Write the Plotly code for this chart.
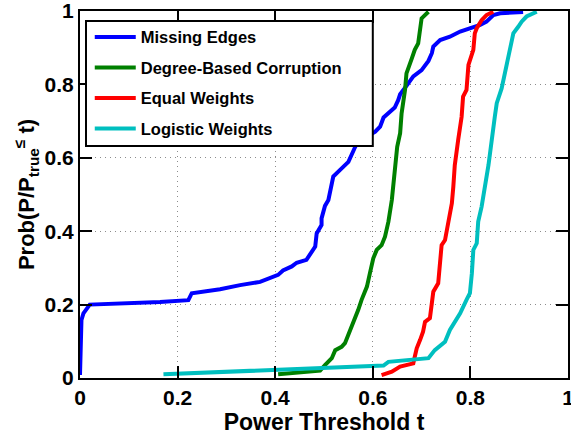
import plotly.graph_objects as go

# ---- data ----
missing_x = [0.0, 0.001, 0.003, 0.007, 0.02, 0.164, 0.215, 0.222, 0.229, 0.287, 0.328, 0.369,
             0.406, 0.416, 0.434, 0.444, 0.464, 0.471, 0.482, 0.485, 0.495, 0.495, 0.502, 0.509,
             0.519, 0.533, 0.550, 0.564, 0.570, 0.605, 0.615, 0.622, 0.645, 0.652, 0.656, 0.669,
             0.683, 0.700, 0.714, 0.721, 0.724, 0.738, 0.758, 0.779, 0.799, 0.820, 0.833, 0.847,
             0.861, 0.908]
missing_y = [0.008, 0.10, 0.158, 0.176, 0.200, 0.207, 0.210, 0.212, 0.231, 0.242, 0.253, 0.262,
             0.281, 0.293, 0.304, 0.314, 0.322, 0.335, 0.358, 0.394, 0.417, 0.435, 0.469, 0.485,
             0.549, 0.567, 0.589, 0.630, 0.644, 0.671, 0.685, 0.710, 0.737, 0.757, 0.773, 0.796,
             0.822, 0.839, 0.864, 0.885, 0.903, 0.921, 0.930, 0.944, 0.953, 0.962, 0.971, 0.989,
             0.994, 0.997]

degree_x = [0.406, 0.45, 0.492, 0.502, 0.516, 0.523, 0.536, 0.543, 0.553, 0.560, 0.570, 0.577,
            0.588, 0.594, 0.601, 0.608, 0.618, 0.625, 0.632, 0.639, 0.645, 0.650, 0.656, 0.659,
            0.666, 0.669, 0.680, 0.686, 0.693, 0.697, 0.700, 0.714]
degree_y = [0.010, 0.015, 0.020, 0.035, 0.054, 0.076, 0.085, 0.095, 0.126, 0.153, 0.185, 0.213,
            0.249, 0.285, 0.326, 0.349, 0.362, 0.385, 0.426, 0.485, 0.567, 0.630, 0.667, 0.721,
            0.785, 0.830, 0.871, 0.894, 0.912, 0.957, 0.980, 0.998]

equal_x = [0.618, 0.639, 0.656, 0.683, 0.686, 0.690, 0.697, 0.703, 0.707, 0.717, 0.721, 0.724,
           0.734, 0.738, 0.741, 0.748, 0.755, 0.762, 0.765, 0.768, 0.775, 0.782, 0.785, 0.792,
           0.796, 0.799, 0.806, 0.809, 0.813, 0.823, 0.833, 0.847]
equal_y = [0.008, 0.017, 0.031, 0.040, 0.058, 0.081, 0.104, 0.126, 0.153, 0.163, 0.204, 0.235,
           0.258, 0.322, 0.362, 0.376, 0.431, 0.476, 0.521, 0.580, 0.649, 0.712, 0.767, 0.785,
           0.853, 0.866, 0.894, 0.939, 0.953, 0.975, 0.989, 0.998]

logistic_x = [0.171, 0.40, 0.622, 0.632, 0.683, 0.714, 0.727, 0.748, 0.758, 0.768, 0.779, 0.792,
              0.799, 0.803, 0.806, 0.813, 0.816, 0.823, 0.830, 0.837, 0.850, 0.854, 0.864, 0.871,
              0.878, 0.884, 0.888, 0.898, 0.905, 0.915, 0.929, 0.936]
logistic_y = [0.010, 0.022, 0.034, 0.044, 0.049, 0.054, 0.076, 0.099, 0.131, 0.153, 0.176, 0.213,
              0.231, 0.285, 0.349, 0.367, 0.426, 0.467, 0.521, 0.580, 0.712, 0.749, 0.789, 0.830,
              0.880, 0.912, 0.939, 0.957, 0.971, 0.985, 0.994, 0.998]

series_names = ["Missing Edges", "Degree-Based Corruption", "Equal Weights", "Logistic Weights"]
series_colors = ["#0000FF", "#008000", "#FF0000", "#00BFBF"]
tick_vals = [0, 0.2, 0.4, 0.6, 0.8, 1]
tick_text = ["0", "0.2", "0.4", "0.6", "0.8", "1"]

FONT = "Liberation Sans, Arial, Helvetica, sans-serif"

fig = go.Figure()
for i, (xs, ys) in enumerate([(missing_x, missing_y), (degree_x, degree_y),
                              (equal_x, equal_y), (logistic_x, logistic_y)]):
    fig.add_trace(go.Scatter(x=xs, y=ys, mode="lines", name=series_names[i],
                             legendgroup=f"g{i}",
                             line=dict(color=series_colors[i], width=4)))

axis_common = dict(range=[0, 1], tickvals=tick_vals, ticktext=tick_text,
                   showline=True, linecolor="black", linewidth=2, mirror="ticks",
                   ticks="inside", ticklen=12, tickwidth=1.5, tickcolor="black",
                   showgrid=True, gridcolor="rgba(0,0,0,0.45)", griddash="1px,4px", gridwidth=1,
                   zeroline=False, automargin=False, ticklabeloverflow="allow",
                   tickfont=dict(family=FONT, size=21, color="black", weight="bold"))

fig.update_layout(
    width=571, height=436,
    margin=dict(l=80, r=3, t=11, b=58),
    paper_bgcolor="white", plot_bgcolor="white",
    xaxis=dict(**axis_common,
               title=dict(text="Power Threshold t", standoff=4,
                          font=dict(family=FONT, size=23, color="black", weight="bold"))),
    yaxis=dict(**axis_common,
               title=dict(text="Prob(P/P<sub>true</sub><sup>≤</sup> t)", standoff=4,
                          font=dict(family=FONT, size=22, color="black", weight="bold"))),
    legend=dict(x=0.02, y=0.976, xanchor="left", yanchor="top", itemwidth=41,
                bgcolor="rgba(0,0,0,0)", borderwidth=0, tracegroupgap=6,
                font=dict(family=FONT, size=16.5, color="black", weight="bold")),
    shapes=[dict(type="rect", xref="paper", yref="paper",
                 x0=0.0123, x1=0.6, y0=0.632, y1=0.973,
                 fillcolor="white", line=dict(color="black", width=2), layer="above")],
)

fig.write_html("out.html", config={"displayModeBar": False},
               post_script="document.body.style.margin='0';document.body.style.overflow='hidden';")
